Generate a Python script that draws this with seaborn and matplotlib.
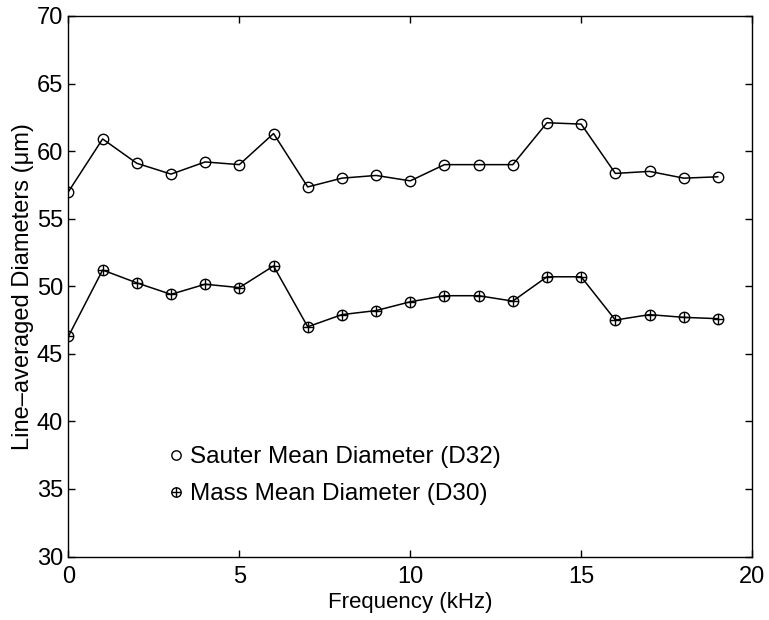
import matplotlib
matplotlib.use("Agg")
import matplotlib.pyplot as plt
from matplotlib.legend_handler import HandlerTuple
import numpy as np
import pandas as pd
import seaborn as sns

# Line-averaged droplet diameters versus excitation frequency
frequency_khz = [0, 1, 2, 3, 4, 5, 6, 7, 8, 9, 10, 11, 12, 13, 14, 15, 16, 17, 18, 19]
sauter_d32 = [57.0, 60.9, 59.1, 58.3, 59.2, 59.0, 61.3, 57.35, 58.0, 58.2,
              57.8, 59.0, 59.0, 59.0, 62.1, 62.0, 58.35, 58.5, 58.0, 58.1]
mass_d30 = [46.3, 51.2, 50.25, 49.4, 50.15, 49.9, 51.5, 47.0, 47.9, 48.2,
            48.85, 49.3, 49.3, 48.9, 50.7, 50.7, 47.5, 47.9, 47.7, 47.6]
series_labels = ["Sauter Mean Diameter (D32)", "Mass Mean Diameter (D30)"]
x_ticks = [0, 5, 10, 15, 20]
y_ticks = [30, 35, 40, 45, 50, 55, 60, 65, 70]

df = pd.DataFrame({"freq": frequency_khz, "d32": sauter_d32, "d30": mass_d30})

sns.set_theme(style="white")
plt.rcParams["font.family"] = ["Liberation Sans", "DejaVu Sans"]
plt.rcParams["text.color"] = "black"
plt.rcParams["axes.labelcolor"] = "black"
plt.rcParams["xtick.color"] = "black"
plt.rcParams["ytick.color"] = "black"

fig = plt.figure(figsize=(7.69, 6.2), dpi=100)
ax = fig.add_axes([0.089, 0.1024, 0.889, 0.8718])

line_kw = dict(color="black", linewidth=1.1, markersize=7.5,
               markerfacecolor="none", markeredgecolor="black", markeredgewidth=1.0)

sns.lineplot(data=df, x="freq", y="d32", marker="o", ax=ax, **line_kw)
sns.lineplot(data=df, x="freq", y="d30", marker="o", ax=ax, **line_kw)
sns.lineplot(data=df, x="freq", y="d30", marker="+", linestyle="", ax=ax,
             color="black", markersize=7.5, markeredgewidth=1.0,
             markeredgecolor="black")

lines = ax.get_lines()
h_d32 = lines[0]
h_d30 = (lines[1], lines[2])

leg = ax.legend([h_d32, h_d30], series_labels,
                handler_map={tuple: HandlerTuple(ndivide=1, pad=0)},
                loc="upper left", bbox_to_anchor=(0.132, 0.222),
                frameon=False, fontsize=17.5, handlelength=0.6,
                handletextpad=0.3, labelspacing=0.62, borderaxespad=0,
                markerscale=0.9)
for tl in leg.get_lines():
    tl.set_linestyle("")
for t in leg.get_texts():
    t.set_color("black")

ax.set_xlim(0, 20)
ax.set_ylim(30, 70)
ax.set_xticks(x_ticks)
ax.set_yticks(y_ticks)
ax.tick_params(axis="both", which="both", direction="in", length=5, width=1.0,
               top=True, right=True, bottom=True, left=True,
               labelsize=17, color="black", labelcolor="black")
ax.tick_params(axis="x", pad=7)
ax.tick_params(axis="y", pad=4)

for s in ax.spines.values():
    s.set_visible(True)
    s.set_color("black")
    s.set_linewidth(1.0)

ax.set_xlabel("Frequency (kHz)", fontsize=16, color="black", labelpad=3)
ax.set_ylabel("Line\u2013averaged Diameters (\u03bcm)", fontsize=17, color="black", labelpad=2)
ax.grid(False)

fig.savefig("out.png", dpi=100, facecolor="white")
